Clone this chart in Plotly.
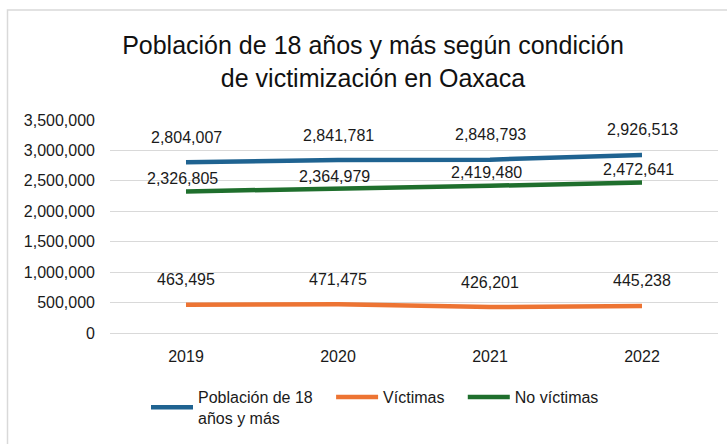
import plotly.graph_objects as go

years = ["2019", "2020", "2021", "2022"]
poblacion = [2804007, 2841781, 2848793, 2926513]
victimas = [463495, 471475, 426201, 445238]
no_victimas = [2326805, 2364979, 2419480, 2472641]

NB = "\u00a0"
series_names = ["Población de 18" + NB * 3 + "<br>años y más", "Víctimas" + NB * 3, "No víctimas"]
series_values = [poblacion, victimas, no_victimas]
series_colors = ["#1F6391", "#ED7433", "#1F6F2D"]
label_shift = [25, 25, 13]
label_xshift = [0, 0, -4]

FONT = "Liberation Sans, Arial, sans-serif"
TXT = "#1a1a1a"

fig = go.Figure()
for name, vals, col in zip(series_names, series_values, series_colors):
    fig.add_trace(go.Scatter(x=years, y=vals, name=name, mode="lines",
                             line=dict(color=col, width=4.5)))

annotations = []
for vals, ys, xs in zip(series_values, label_shift, label_xshift):
    for i, v in enumerate(vals):
        annotations.append(dict(x=i, y=v, text=f"{v:,}", showarrow=False,
                                yshift=ys, xshift=xs, yanchor="middle",
                                font=dict(family=FONT, size=16, color=TXT)))

fig.update_layout(
    width=727, height=444,
    margin=dict(l=110, r=9, t=120, b=111, autoexpand=False),
    paper_bgcolor="white", plot_bgcolor="white",
    font=dict(family=FONT, size=16, color=TXT),
    title=dict(text="Población de 18 años y más según condición<br>de victimización en Oaxaca",
               x=373 / 727, xref="container", xanchor="center",
               y=1 - 54 / 444, yref="container", yanchor="middle",
               font=dict(family=FONT, size=25, color="#111111")),
    xaxis=dict(type="category", range=[-0.5, len(years) - 0.5], autorange=False,
               showgrid=False, showline=False, zeroline=False,
               ticks="", ticklabelstandoff=12, tickfont=dict(size=16, color=TXT)),
    yaxis=dict(range=[0, 3500000], dtick=500000, tickformat=",",
               gridcolor="#d9d9d9", gridwidth=1.2, zeroline=True,
               zerolinecolor="#d9d9d9", zerolinewidth=1.2, showline=False,
               ticks="", ticklabelstandoff=14, tickfont=dict(size=16, color=TXT)),
    legend=dict(orientation="h", x=(146 - 110) / 608, xanchor="left",
                y=(333 - 380) / 213, yanchor="top", itemwidth=42,
                font=dict(family=FONT, size=16, color=TXT), tracegroupgap=0),
    annotations=annotations,
    shapes=[dict(type="rect", xref="paper", yref="paper",
                 x0=(7.5 - 110) / 608, x1=1.2, y0=-0.8, y1=(333 - 10) / 213,
                 line=dict(color="#d9d9d9", width=1.5), fillcolor="rgba(0,0,0,0)",
                 layer="below")],
)

fig.write_html("out.html", config={"displayModeBar": False},
               post_script="document.body.style.margin='0';document.body.style.overflow='hidden';")
